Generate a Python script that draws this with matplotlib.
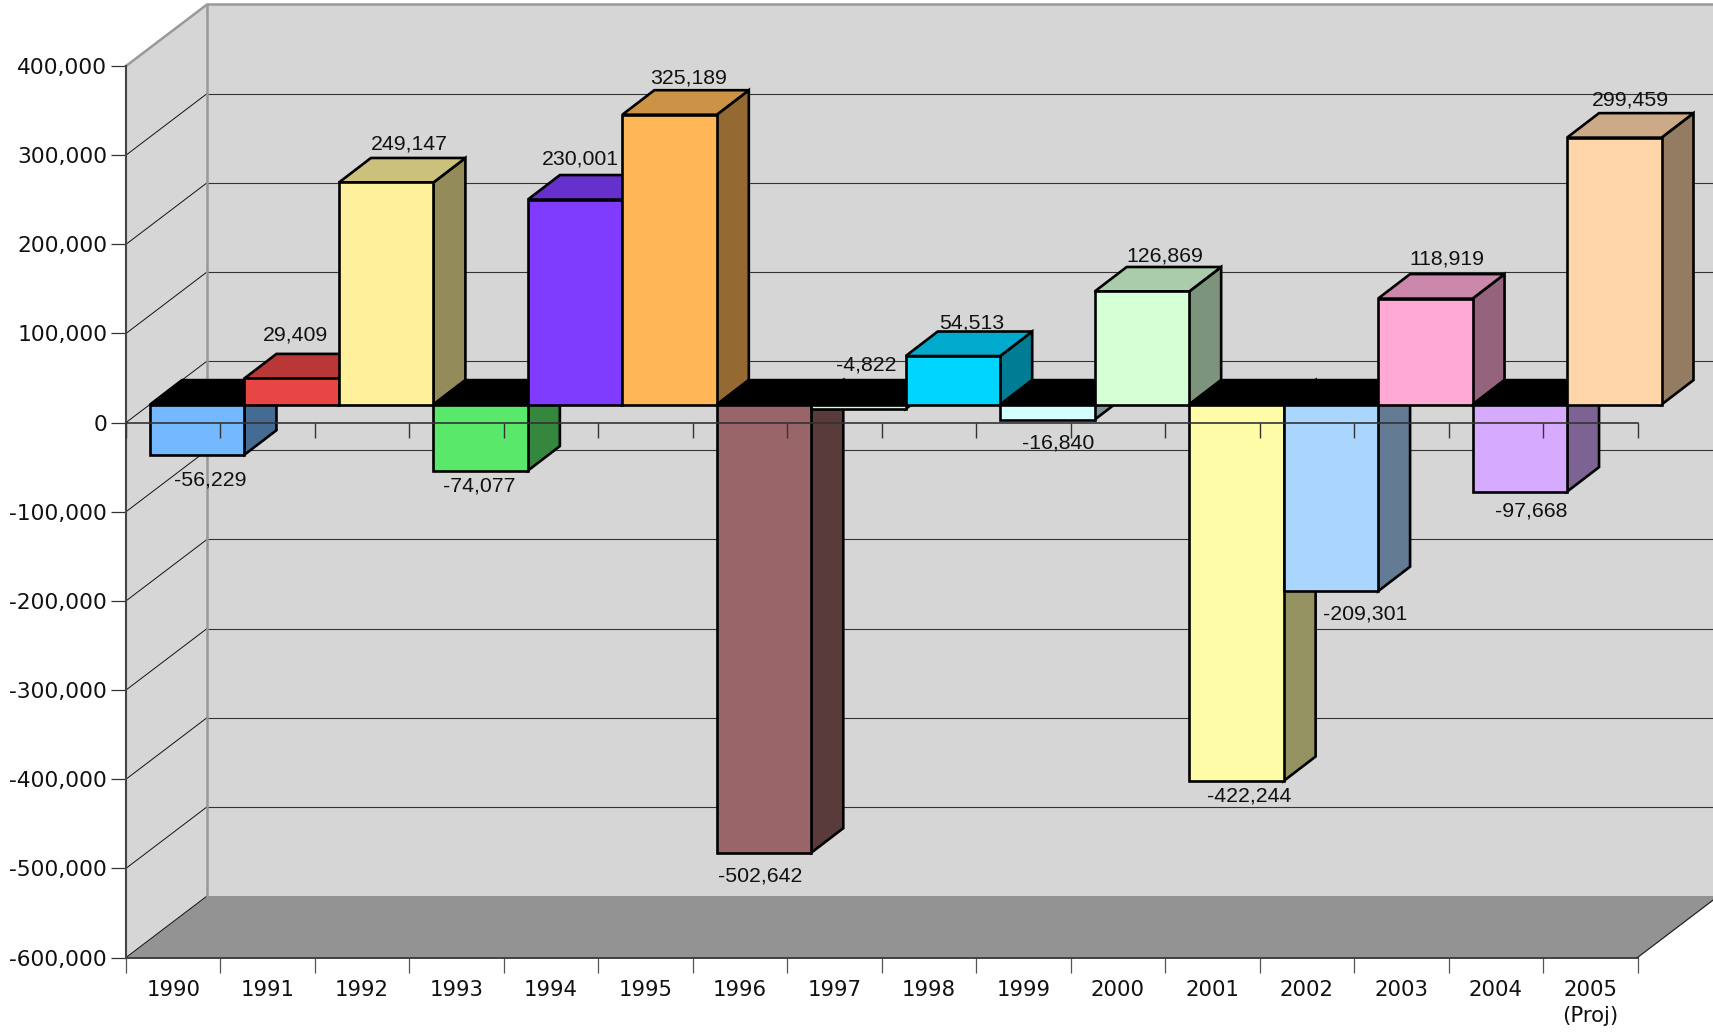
import matplotlib
matplotlib.use('Agg')
import matplotlib.pyplot as plt

years = ['1990', '1991', '1992', '1993', '1994', '1995', '1996', '1997',
         '1998', '1999', '2000', '2001', '2002', '2003', '2004', '2005\n(Proj)']
values = [-56229, 29409, 249147, -74077, 230001, 325189, -502642, -4822,
          54513, -16840, 126869, -422244, -209301, 118919, -97668, 299459]
y_ticks = [400000, 300000, 200000, 100000, 0, -100000, -200000, -300000, -400000, -500000, -600000]

bar_colors = ['#74b8ff', '#e84545', '#fff09c', '#5ae86a', '#7f3cff', '#ffb657', '#996568', '#d5ffd5',
              '#00d5ff', '#d5ffff', '#d5ffd5', '#fffca8', '#aad5ff', '#ffaad5', '#d5aaff', '#ffd5aa']
# label nudges in pixels from the middle of the bar's front end
label_nudge = [(13, -25), (4, 43), (23, 38), (-1, -15), (5, 41), (19, 37), (-4, -23), (8, 44),
               (19, 33), (11, -23), (23, 35), (13, -15), (34, -23), (22, 40), (11, -19), (16, 38)]

W, H = 1713, 1034
px_left, px_right = 126, 1637.5
px_top, px_bottom = 66, 957.5
x_per_px = 16 / (px_right - px_left)
y_per_px = 1000000 / (px_bottom - px_top)

# 3d offsets, in pixels
wall_dx, wall_dy = 81, 61.5
front_dx, front_dy = 24, 18
depth_dx, depth_dy = 32, 24.5


def shift(x, y, dx, dy):
    return x + dx * x_per_px, y + dy * y_per_px


def shade(color, f):
    rgb = matplotlib.colors.to_rgb(color)
    return tuple(c * f for c in rgb)


fig = plt.figure(figsize=(W / 100, H / 100), dpi=100)
ax = fig.add_axes([px_left / W, 1 - px_bottom / H, (px_right - px_left) / W, (px_bottom - px_top) / H])
ax.set_xlim(0, 16)
ax.set_ylim(-600000, 400000)
ax.patch.set_alpha(0)
for s in ['top', 'right', 'bottom']:
    ax.spines[s].set_visible(False)
ax.spines['left'].set_color('#444444')
ax.spines['left'].set_linewidth(1.5)
ax.spines['left'].set_zorder(3)

# walls and floor
x_back, y_back = shift(0, 400000, wall_dx, wall_dy)
x_end, y_floor = shift(16, -600000, wall_dx, wall_dy)
ax.fill([0, x_back, x_end + 1, x_end + 1, x_back, 0], [400000, y_back, y_back, y_floor, y_floor, -600000],
        color='#d6d6d6', lw=0, clip_on=False, zorder=1)
ax.fill([0, 16, x_end, x_back], [-600000, -600000, y_floor, y_floor], color='#939393', lw=0, clip_on=False, zorder=1.5)

for t in y_ticks[1:]:
    xb, yb = shift(0, t, wall_dx, wall_dy)
    ax.plot([0, xb], [t, yb], color='#111111', lw=0.7, clip_on=False, zorder=2)
    if t > -600000:
        ax.plot([xb, x_end + 1], [yb, yb], color='#333333', lw=0.8, clip_on=False, zorder=2)
ax.plot([0, x_back, x_end + 1], [400000, y_back, y_back], color='#999999', lw=1.8, clip_on=False, zorder=2.2)
ax.plot([x_back, x_back], [y_back, y_floor], color='#999999', lw=1.8, clip_on=False, zorder=2.2)
ax.plot([0, 16], [-600000, -600000], color='#333333', lw=1.3, clip_on=False, zorder=2.2)
ax.plot([16, x_end], [-600000, y_floor], color='#222222', lw=0.9, clip_on=False, zorder=2.2)

# bars, left to right so later ones cover earlier ones
z = 4
for i, (v, c) in enumerate(zip(values, bar_colors)):
    x0, base = shift(i, 0, front_dx, front_dy)
    x1 = x0 + 1
    top = base + v
    hi = max(base, top)
    face_top = shade(c, 0.8) if v > 0 else 'black'
    xb0, yb_hi = shift(x0, hi, depth_dx, depth_dy)
    xb1, yb_lo = shift(x1, min(base, top), depth_dx, depth_dy)
    kw = dict(edgecolor='black', lw=1.9, clip_on=False, joinstyle='miter', zorder=z)
    ax.fill([x1, xb1, xb1, x1], [min(base, top), yb_lo, yb_hi, hi], facecolor=shade(c, 0.58), **kw)
    ax.fill([x0, x1, xb1, xb0], [hi, hi, yb_hi, yb_hi], facecolor=face_top, **kw)
    ax.fill([x0, x1, x1, x0], [min(base, top), min(base, top), hi, hi], facecolor=c, **kw)
    z += 1
    ax.annotate(f'{v:,}', xy=(x0 + 0.5, top), xytext=label_nudge[i], textcoords='offset pixels',
                ha='center', va='center', fontsize=15.3, family='Liberation Sans', color='#111111',
                annotation_clip=False, zorder=50)

# zero line sits on top of the bars
ax.plot([0, 16], [0, 0], color='#333333', lw=1.2, zorder=40, clip_on=False)
ax.vlines(range(17), 0, -15 * y_per_px, color='#333333', lw=1, zorder=40, clip_on=False)

ax.set_yticks(y_ticks)
ax.set_yticklabels([f'{t:,}' for t in y_ticks], fontsize=15.7, family='DejaVu Sans', color='#111111')
ax.tick_params(axis='y', length=10.5, width=0.9, color='#333333', pad=3)
ax.set_xticks(range(17))
ax.set_xticklabels([])
ax.tick_params(axis='x', length=10.5, width=0.9, color='#555555')
for i, label in enumerate(years):
    ax.annotate(label, xy=(i + 0.5, -600000), xytext=(0, -22), textcoords='offset pixels',
                ha='center', va='top', fontsize=15.3, family='DejaVu Sans', color='#111111',
                linespacing=1.4, annotation_clip=False)

fig.savefig('out.png', dpi=100)
